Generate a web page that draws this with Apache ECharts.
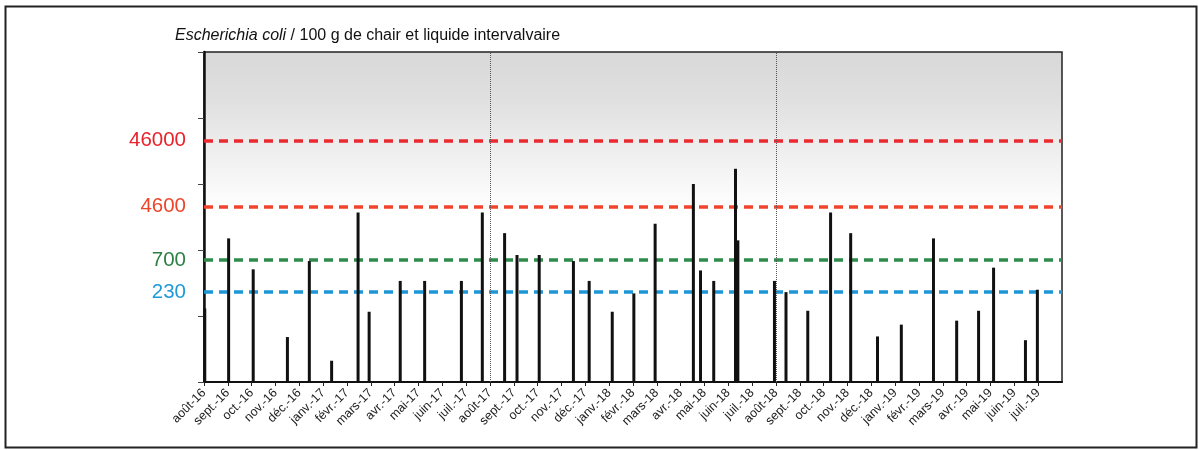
<!DOCTYPE html>
<html>
<head>
<meta charset="utf-8">
<script src="https://cdn.jsdelivr.net/npm/echarts@6/dist/echarts.min.js"></script>
<style>
html,body{margin:0;padding:0;background:#fff;}
#chart{width:1199px;height:450px;}
</style>
</head>
<body>
<div id="chart"></div>
<script>
// Month tick labels (axis starts 1 Aug 2016, ends 1 Aug 2019)
const monthLabels = ['août-16','sept.-16','oct.-16','nov.-16','déc.-16','janv.-17','févr.-17','mars-17','avr.-17','mai-17','juin-17','juil.-17',
  'août-17','sept.-17','oct.-17','nov.-17','déc.-17','janv.-18','févr.-18','mars-18','avr.-18','mai-18','juin-18','juil.-18',
  'août-18','sept.-18','oct.-18','nov.-18','déc.-18','janv.-19','févr.-19','mars-19','avr.-19','mai-19','juin-19','juil.-19'];

// Sampling dates and E. coli counts (per 100 g)
const sampleDates = ['2016-08-02','2016-09-02','2016-10-03','2016-11-16','2016-12-14','2017-01-12','2017-02-14','2017-02-27',
  '2017-04-08','2017-05-09','2017-06-25','2017-07-22','2017-08-20','2017-09-05','2017-10-03','2017-11-16','2017-12-06',
  '2018-01-05','2018-02-02','2018-02-27','2018-04-17','2018-04-26','2018-05-13','2018-06-10','2018-06-13','2018-07-30',
  '2018-08-14','2018-09-11','2018-10-10','2018-11-05','2018-12-09','2019-01-09','2019-02-18','2019-03-19','2019-04-16',
  '2019-05-05','2019-06-15','2019-06-30'];
const ecoliValues = [130,1500,510,48,680,21,3700,116,
  340,340,340,3700,1800,840,840,680,340,
  116,220,2500,10000,490,340,17000,1400,340,
  230,120,3700,1800,49,74,1500,85,120,
  540,43,250];

// Threshold lines
const thresholdValues = [46000,4600,700,230];
const thresholdLabels = ['46000','4600','700','230'];
const thresholdColors = ['#e8232b','#ec452a','#2e8045','#1f9ad6'];
const thresholdLineColors = ['#ea2a30','#f0452c','#2f8a4c','#1d96d6'];

// Year separators (month index)
const separatorMonths = [12,24];

const Y_MIN = 10, Y_MAX = 1000000;

function toMonthIndex(s){
  const p = s.split('-').map(Number);
  const days = new Date(p[0], p[1], 0).getDate();
  return (p[0]-2016)*12 + (p[1]-8) + (p[2]-1)/days;
}

const barData = sampleDates.map((d,i)=>[toMonthIndex(d), ecoliValues[i]]);

const chart = echarts.init(document.getElementById('chart'), null, {renderer:'canvas'});

const FONT = 'Liberation Sans, Arial, sans-serif';

const markLineData = thresholdValues.map((v,i)=>({
  yAxis: v,
  lineStyle:{color: thresholdLineColors[i], width:3.5, type:[9,6]},
  label:{show:true, position:'start', formatter: thresholdLabels[i], color: thresholdColors[i],
    fontSize:20.5, fontFamily:FONT, distance:18}
}));

chart.setOption({
  animation:false,
  backgroundColor:'#fff',
  textStyle:{fontFamily:FONT},
  graphic:[
    {type:'rect', shape:{x:5.5,y:6.5,width:1191,height:441}, style:{fill:null, stroke:'#222', lineWidth:2}, silent:true, z:-1},
    {type:'text', left:175, top:28, style:{
      text:'{i|Escherichia coli} / 100 g de chair et liquide intervalvaire',
      rich:{i:{fontStyle:'italic', fontSize:16, fill:'#111', fontFamily:FONT}},
      fontSize:16, fill:'#111', fontFamily:FONT}}
  ],
  grid:{left:204, right:137, top:52, bottom:68, show:true, borderColor:'#222', borderWidth:1.5,
    backgroundColor:{type:'linear', x:0, y:0, x2:0, y2:1, colorStops:[
      {offset:0, color:'#d8d8d8'},{offset:0.15, color:'#e0e0e0'},{offset:0.32, color:'#f0f0f0'},{offset:0.48, color:'#ffffff'},{offset:1, color:'#ffffff'}]}},
  xAxis:{
    type:'value', min:0, max:36, interval:1,
    axisLine:{show:true, lineStyle:{color:'#111', width:2}},
    axisTick:{show:true, length:4, lineStyle:{color:'#222', width:1}},
    splitLine:{show:false},
    axisLabel:{rotate:45, margin:9, fontSize:12.5, color:'#222',
      fontFamily:FONT,
      showMaxLabel:false,
      formatter:function(v){ return monthLabels[Math.round(v)] || ''; }}
  },
  yAxis:{
    type:'log', logBase:10, min:Y_MIN, max:Y_MAX,
    axisLine:{show:true, lineStyle:{color:'#111', width:2.5}},
    axisTick:{show:true, length:6, lineStyle:{color:'#444', width:1}},
    axisLabel:{show:false},
    splitLine:{show:false}
  },
  series:[{
    type:'custom',
    data: barData,
    encode:{x:0, y:1},
    renderItem:function(params, api){
      const top = api.coord([api.value(0), api.value(1)]);
      const base = api.coord([api.value(0), Y_MIN]);
      return {type:'line', shape:{x1:top[0], y1:top[1], x2:base[0], y2:base[1]},
        style:{stroke:'#111', lineWidth:3}};
    },
    z:3,
    markLine:{
      silent:true, symbol:'none', z:2,
      data: markLineData.concat(separatorMonths.map(m=>({
        xAxis:m, lineStyle:{color:'#555', width:1, type:'dotted'}, label:{show:false}
      })))
    }
  }]
});
</script>
</body>
</html>
